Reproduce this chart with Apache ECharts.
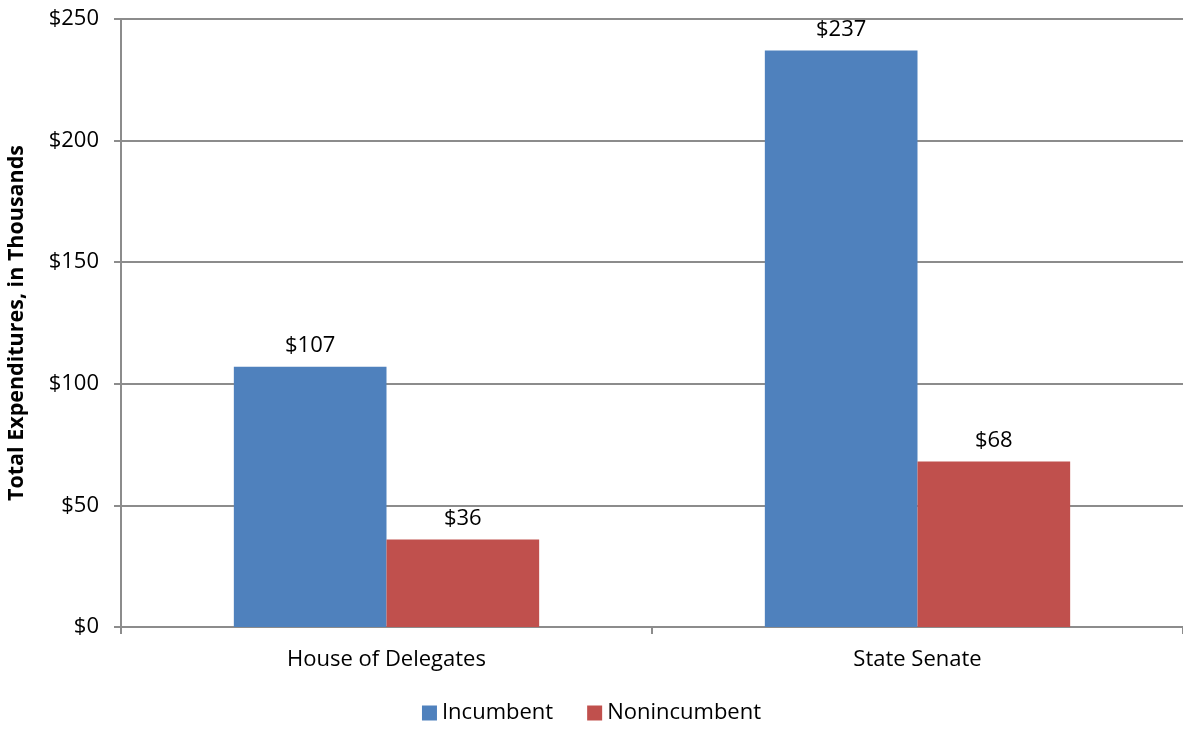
<!DOCTYPE html>
<html>
<head>
<meta charset="utf-8">
<script src="https://cdn.jsdelivr.net/npm/echarts@6/dist/echarts.min.js"></script>
<style>
  html, body { margin: 0; padding: 0; background: #fff; }
  #chart { width: 1183px; height: 729px; }
</style>
</head>
<body>
<div id="chart"></div>
<script>
const categories = ['House of Delegates', 'State Senate']
const incumbent = [107, 237]
const nonincumbent = [36, 68]
const seriesNames = ['Incumbent', 'Nonincumbent']

const font = '"Open Sans", "DejaVu Sans", sans-serif'
const axisGrey = '#8c8c8c'

const label = {
  show: true,
  position: 'top',
  distance: 10,
  fontFamily: font,
  fontSize: 22,
  color: '#000',
  formatter: p => '$' + p.value
}

const chart = echarts.init(document.getElementById('chart'))
chart.setOption({
  animation: false,
  textStyle: { fontFamily: font },
  color: ['#4f81bd', '#c0504d'],
  grid: { left: 121, right: 0, top: 19, bottom: 102, outerBoundsMode: 'none', containLabel: false },
  legend: {
    bottom: 0,
    left: 'center',
    icon: 'rect',
    itemWidth: 15,
    itemHeight: 15,
    itemGap: 34,
    textStyle: { fontFamily: font, fontSize: 22, color: '#000' },
    data: seriesNames
  },
  xAxis: {
    type: 'category',
    data: categories,
    axisLine: { lineStyle: { color: axisGrey, width: 2 } },
    axisTick: { show: true, length: 7, lineStyle: { color: axisGrey, width: 2 } },
    axisLabel: { fontFamily: font, fontSize: 22, color: '#000', margin: 22 }
  },
  yAxis: {
    type: 'value',
    min: 0,
    max: 250,
    interval: 50,
    name: 'Total Expenditures, in Thousands',
    nameLocation: 'middle',
    nameGap: 93,
    nameTextStyle: { fontFamily: font, fontSize: 21.5, fontWeight: 'bold', color: '#000' },
    axisLine: { show: true, lineStyle: { color: axisGrey, width: 2 } },
    axisTick: { show: true, length: 7, lineStyle: { color: axisGrey, width: 2 } },
    splitLine: { lineStyle: { color: axisGrey, width: 2 } },
    axisLabel: { fontFamily: font, fontSize: 22, color: '#000', margin: 22, formatter: v => '$' + v }
  },
  series: [
    {
      name: seriesNames[0],
      type: 'bar',
      data: incumbent,
      barGap: '0%',
      barCategoryGap: '42.5%',
      label: label
    },
    {
      name: seriesNames[1],
      type: 'bar',
      data: nonincumbent,
      label: label
    }
  ]
})
</script>
</body>
</html>
